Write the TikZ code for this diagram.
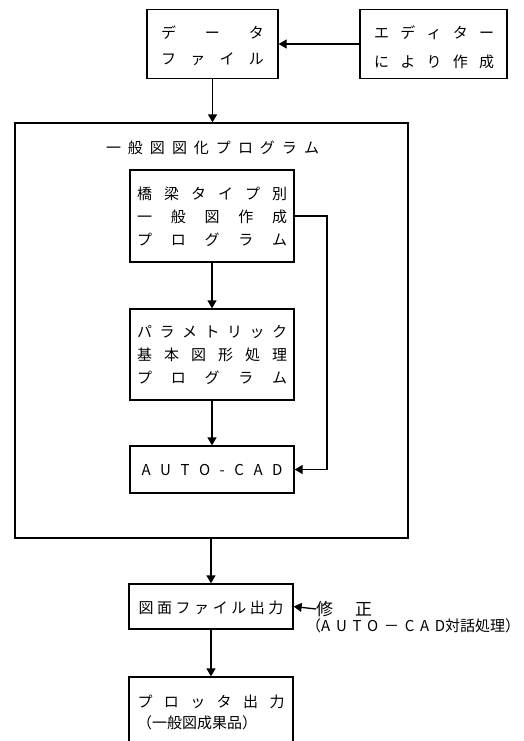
\documentclass[tikz,border=0pt]{standalone}
\usepackage{fontspec}
\newfontfamily\jp{Noto Sans CJK JP}
\usetikzlibrary{arrows.meta}
\begin{document}
\begin{tikzpicture}[x=1pt,y=-1pt,
  box/.style={draw, line width=1.3pt, inner sep=0pt},
  txt/.style={font=\jp\fontsize{15}{18}\selectfont, inner sep=0pt},
  arr/.style={line width=1.3pt, -{Triangle[length=8pt,width=9pt]}},
  ln/.style={line width=1.3pt}]
\useasboundingbox (0,0) rectangle (523,741);
\clip (0,0) rectangle (523,741);
\fill[white] (0,0) rectangle (523,741);
% data file
\node[box, minimum width=131pt, minimum height=69pt] (data) at (212.5,44) {};
\node[txt] (data1) at (212.5,33) {\makebox[103pt]{デ\hfill ー\hfill タ}};
\node[txt] (data2) at (212.5,59) {\makebox[103pt]{フ\hfill ァ\hfill イ\hfill ル}};
% editor
\node[box, minimum width=147pt, minimum height=69pt] (edit) at (433.5,44) {};
\node[txt] (edit1) at (434,33) {\makebox[120pt]{エ\hfill デ\hfill ィ\hfill タ\hfill ー}};
\node[txt] (edit2) at (434,62) {\makebox[120pt]{に\hfill よ\hfill り\hfill 作\hfill 成}};
% outer
\node[box, minimum width=393pt, minimum height=415pt] (outer) at (211.5,330.5) {};
\node[txt] (title) at (212.5,148) {\makebox[213pt]{一\hfill 般\hfill 図\hfill 図\hfill 化\hfill プ\hfill ロ\hfill グ\hfill ラ\hfill ム}};
% box1
\node[box, minimum width=164pt, minimum height=92pt] (b1) at (212,216) {};
\node[txt] (b1a) at (212,194) {\makebox[150pt]{橋\hfill 梁\hfill タ\hfill イ\hfill プ\hfill 別}};
\node[txt] (b1b) at (212,217) {\makebox[150pt]{一\hfill 般\hfill 図\hfill 作\hfill 成}};
\node[txt] (b1c) at (212,240) {\makebox[150pt]{プ\hfill ロ\hfill グ\hfill ラ\hfill ム}};
% box2
\node[box, minimum width=164pt, minimum height=91pt] (b2) at (212,354.5) {};
\node[txt] (b2a) at (212,332) {\makebox[150pt]{パ\hfill ラ\hfill メ\hfill ト\hfill リ\hfill ッ\hfill ク}};
\node[txt] (b2b) at (212,355) {\makebox[150pt]{基\hfill 本\hfill 図\hfill 形\hfill 処\hfill 理}};
\node[txt] (b2c) at (212,378) {\makebox[150pt]{プ\hfill ロ\hfill グ\hfill ラ\hfill ム}};
% box3
\node[box, minimum width=164pt, minimum height=47pt] (b3) at (212,469.5) {};
\node[txt] (b3a) at (212,470) {\makebox[141pt]{A\hfill U\hfill T\hfill O\hfill -\hfill C\hfill A\hfill D}};
% box4
\node[box, minimum width=164pt, minimum height=45pt] (b4) at (211,606.5) {};
\node[txt] (b4a) at (211,608) {\makebox[145pt]{図\hfill 面\hfill フ\hfill ァ\hfill イ\hfill ル\hfill 出\hfill 力}};
% box5
\node[box, minimum width=164pt, minimum height=80pt] (b5) at (211,717) {};
\node[txt] (b5a) at (211,702) {\makebox[147pt]{プ\hfill ロ\hfill ッ\hfill タ\hfill 出\hfill 力}};
\node[txt, anchor=west] (b5b) at (137,723) {（一般図成果品）};
% modification
\node[txt, font=\jp\fontsize{17}{20}\selectfont, anchor=west] (mod) at (316,609) {修\hspace{22pt}正};
\node[txt, anchor=west] (mod2) at (306,626) {（\makebox[124pt]{A\hfill U\hfill T\hfill O\hfill －\hfill C\hfill A\hfill D}対話処理）};
% connectors
\coordinate (c1) at (327,216);
\coordinate (c2) at (327,469.5);
\draw[arr] (edit.west) -- (data.east);
\draw[arr] (data.south) -- (data.south |- outer.north);
\draw[arr] (b1.south) -- (b2.north);
\draw[arr] (b2.south) -- (b3.north);
\draw[arr] (b1.east) -- (c1) -- (c2) -- (b3.east);
\draw[arr] (outer.south -| b4.north) -- (b4.north);
\draw[arr] (b4.south) -- (b5.north);
\draw[arr] (mod.west) -- (b4.east);
\end{tikzpicture}
\end{document}
